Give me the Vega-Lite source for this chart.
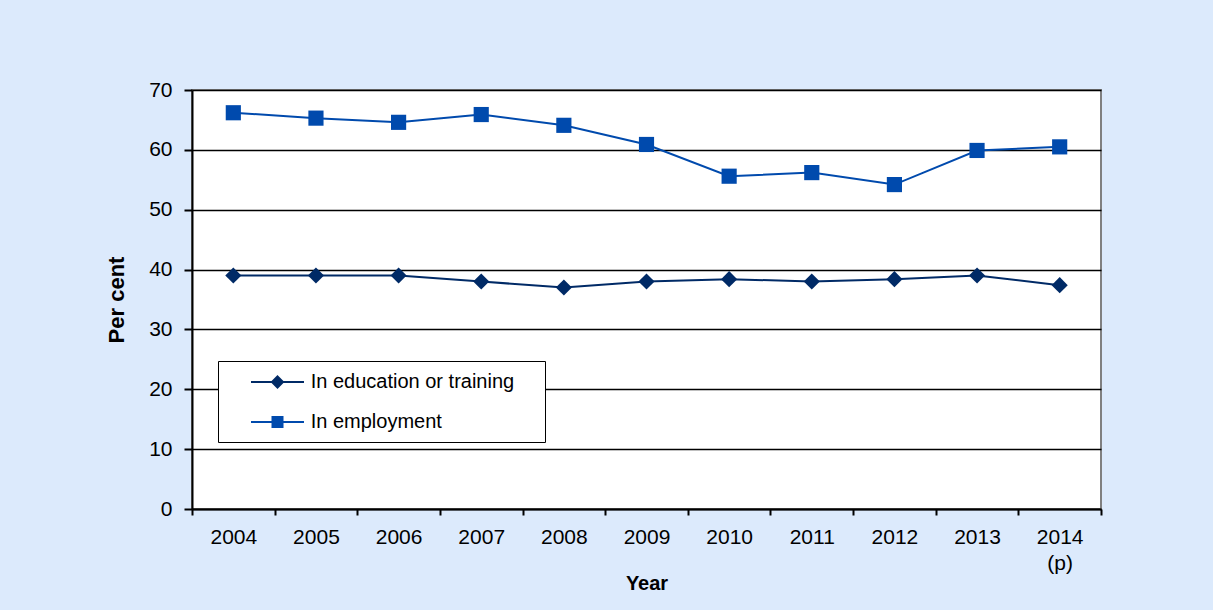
{
  "$schema": "https://vega.github.io/schema/vega-lite/v6.json",
  "width": 909,
  "height": 419,
  "autosize": {"type": "none"},
  "padding": {"left": 192, "top": 90, "right": 112, "bottom": 101},
  "background": "#DCEAFC",
  "config": {
    "font": "Liberation Sans",
    "view": {"fill": "#ffffff", "stroke": "#808080", "strokeWidth": 2}
  },
  "data": {
    "values": [
      {"year": "2004", "series": "In education or training", "value": 39.0},
      {"year": "2005", "series": "In education or training", "value": 39.0},
      {"year": "2006", "series": "In education or training", "value": 39.0},
      {"year": "2007", "series": "In education or training", "value": 38.0},
      {"year": "2008", "series": "In education or training", "value": 37.0},
      {"year": "2009", "series": "In education or training", "value": 38.0},
      {"year": "2010", "series": "In education or training", "value": 38.4},
      {"year": "2011", "series": "In education or training", "value": 38.0},
      {"year": "2012", "series": "In education or training", "value": 38.4},
      {"year": "2013", "series": "In education or training", "value": 39.0},
      {"year": "2014", "series": "In education or training", "value": 37.4},
      {"year": "2004", "series": "In employment", "value": 66.2},
      {"year": "2005", "series": "In employment", "value": 65.3},
      {"year": "2006", "series": "In employment", "value": 64.6},
      {"year": "2007", "series": "In employment", "value": 65.9},
      {"year": "2008", "series": "In employment", "value": 64.1},
      {"year": "2009", "series": "In employment", "value": 60.9},
      {"year": "2010", "series": "In employment", "value": 55.6},
      {"year": "2011", "series": "In employment", "value": 56.2},
      {"year": "2012", "series": "In employment", "value": 54.2},
      {"year": "2013", "series": "In employment", "value": 59.9},
      {"year": "2014", "series": "In employment", "value": 60.5}
    ]
  },
  "encoding": {
    "x": {
      "field": "year",
      "type": "ordinal",
      "bandPosition": 0.5,
      "scale": {"type": "band", "paddingInner": 0, "paddingOuter": 0},
      "axis": {
        "title": "Year",
        "titleFontSize": 20,
        "titleFontWeight": "bold",
        "titleColor": "#000000",
        "titlePadding": 0,
        "labelAngle": 0,
        "labelFontSize": 21,
        "labelColor": "#000000",
        "labelPadding": 11,
        "labelLineHeight": 26,
        "labelExpr": "datum.value == '2014' ? ['2014', '(p)'] : datum.value",
        "tickBand": "extent",
        "tickSize": 6,
        "tickColor": "#000000",
        "tickWidth": 2,
        "domainColor": "#000000",
        "domainWidth": 2,
        "grid": false
      }
    },
    "y": {
      "field": "value",
      "type": "quantitative",
      "scale": {"domain": [0, 70], "nice": false},
      "axis": {
        "title": "Per cent",
        "titleFontSize": 22,
        "titleFontWeight": "bold",
        "titleColor": "#000000",
        "titlePadding": 20,
        "values": [0, 10, 20, 30, 40, 50, 60, 70],
        "labelFontSize": 21,
        "labelColor": "#000000",
        "labelPadding": 12,
        "tickSize": 8,
        "tickColor": "#000000",
        "tickWidth": 2,
        "domainColor": "#000000",
        "domainWidth": 2,
        "grid": true,
        "gridColor": "#000000",
        "gridWidth": 1.5
      }
    },
    "color": {
      "field": "series",
      "type": "nominal",
      "scale": {
        "domain": ["In education or training", "In employment"],
        "range": ["#002A66", "#004AAD"]
      },
      "legend": {
        "orient": "none",
        "legendX": 26,
        "legendY": 271,
        "title": ".",
        "titleOrient": "right",
        "titleFontSize": 20,
        "titleColor": "#ffffff",
        "titlePadding": 15,
        "fillColor": "#ffffff",
        "strokeColor": "#000000",
        "padding": 10,
        "symbolSize": 400,
        "rowPadding": 19,
        "labelOffset": 60.7,
        "labelFontSize": 20,
        "labelColor": "#000000",
        "labelLimit": 400,
        "encode": {
          "symbols": {
            "update": {
              "shape": {"signal": "datum.value === 'In employment' ? 'M1.2,0H6.5M3.35,-0.5H4.35V0.5H3.35Z' : 'M1.2,0H6.5M3.85,-0.55L4.4,0L3.85,0.55L3.3,0Z'"},
              "fill": {"scale": "color", "field": "value"},
              "stroke": {"scale": "color", "field": "value"},
              "strokeWidth": {"value": 2},
              "opacity": {"value": 1}
            }
          }
        }
      }
    }
  },
  "layer": [
    {"mark": {"type": "line", "strokeWidth": 2}},
    {
      "transform": [{"filter": "datum.series === 'In education or training'"}],
      "mark": {"type": "point", "filled": true, "opacity": 1, "shape": "diamond", "size": 260}
    },
    {
      "transform": [{"filter": "datum.series === 'In employment'"}],
      "mark": {"type": "point", "filled": true, "opacity": 1, "shape": "square", "size": 230}
    }
  ]
}
